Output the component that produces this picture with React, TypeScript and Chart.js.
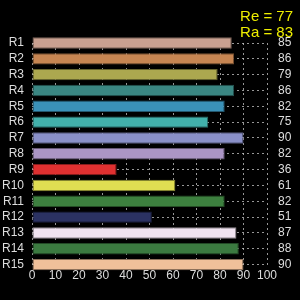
import React, { useEffect, useRef } from "react";
import { Chart, registerables } from "chart.js";

Chart.register(...registerables);

const categories = ["R1", "R2", "R3", "R4", "R5", "R6", "R7", "R8", "R9", "R10", "R11", "R12", "R13", "R14", "R15"];
const values = [85, 86, 79, 86, 82, 75, 90, 82, 36, 61, 82, 51, 87, 88, 90];
const barColors = [
  "#c9a090", "#c68552", "#aca84f", "#3a8682", "#3a91b8", "#42b0ab", "#8a90c8", "#ab95c5",
  "#df3030", "#e0de52", "#3d803f", "#2b3262", "#f0e3f0", "#3b7a40", "#efc09a",
];
const titleLines = ["Re = 77", "Ra = 83"];
const xTicks = [0, 10, 20, 30, 40, 50, 60, 70, 80, 90, 100];

function darken(hex: string, f: number) {
  const n = parseInt(hex.slice(1), 16);
  const r = Math.round(((n >> 16) & 255) * f);
  const g = Math.round(((n >> 8) & 255) * f);
  const b = Math.round((n & 255) * f);
  return `rgb(${r},${g},${b})`;
}

export default function App() {
  const ref = useRef<HTMLCanvasElement | null>(null);
  useEffect(() => {
    document.body.style.background = "#000";
    const ctx = ref.current!;
    const font = { family: "'Liberation Sans', Arial, sans-serif", size: 12 };
    const gridColor = "rgba(200,200,200,0.75)";
    const chart = new Chart(ctx, {
      type: "bar",
      data: {
        labels: categories,
        datasets: [
          {
            data: values,
            backgroundColor: barColors,
            borderColor: barColors.map((c) => darken(c, 0.6)),
            borderWidth: 1,
            borderSkipped: false,
            categoryPercentage: 0.9,
            barPercentage: 0.8,
            clip: false,
          },
        ],
      },
      options: {
        indexAxis: "y",
        animation: false,
        responsive: false,
        maintainAspectRatio: false,
        layout: { padding: { left: 0, right: 7, top: 0, bottom: 13 } },
        plugins: {
          legend: { display: false },
          tooltip: { enabled: false },
          title: {
            display: true,
            text: titleLines,
            align: "end",
            color: "#eeee00",
            font: { family: font.family, size: 15, weight: "normal", lineHeight: "16px" } as any,
            padding: { top: 9, bottom: 2 },
          },
        },
        scales: {
          x: {
            type: "linear",
            min: 0,
            max: 100,
            afterBuildTicks: (s: any) => {
              s.ticks = xTicks.map((v) => ({ value: v }));
            },
            ticks: { color: "#ddd", font, padding: 4, maxRotation: 0, autoSkip: false },
            grid: { color: gridColor, drawTicks: false },
            border: { display: false, dash: [2, 3] },
          },
          y: {
            type: "category",
            offset: false,
            afterFit: (s: any) => {
              s.width = 32;
            },
            ticks: { color: "#ddd", font, padding: 8, autoSkip: false },
            grid: { color: gridColor, drawTicks: false, offset: false },
            border: { display: false, dash: [2, 3] },
          },
          y2: {
            type: "category",
            position: "right",
            offset: false,
            labels: values.map(String),
            afterFit: (s: any) => {
              s.width = 26;
            },
            ticks: { color: "#ddd", font, padding: 11, autoSkip: false },
            grid: { display: false, drawTicks: false },
            border: { display: false },
          },
        },
      } as any,
    });
    return () => chart.destroy();
  }, []);
  return (
    <div style={{ position: "absolute", left: 0, top: 0, width: 300, height: 300, background: "#000" }}>
      <canvas ref={ref} width={300} height={300} style={{ display: "block" }} />
    </div>
  );
}
